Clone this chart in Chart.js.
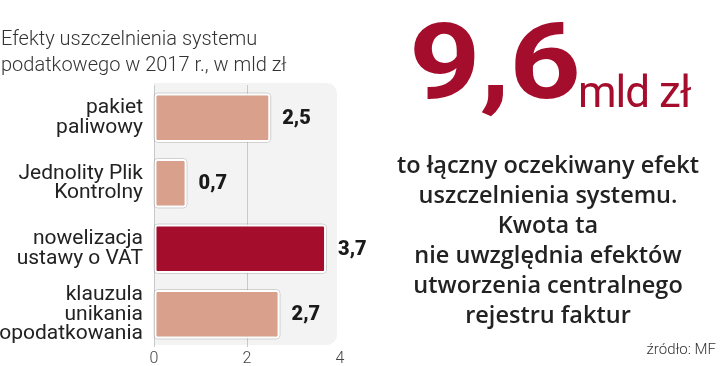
<!DOCTYPE html>
<html>
<head>
<meta charset="utf-8">
<script src="https://cdn.jsdelivr.net/npm/chart.js@4"></script>
<style>
  body { margin: 0; background: #fff; }
  #page { position: relative; width: 720px; height: 366px; overflow: hidden; font-family: Roboto, sans-serif; }
  #chart { position: absolute; left: 0; top: 0; }
  .title { position: absolute; left: 1px; top: 25px; font-size: 20px; line-height: 26px; font-weight: 300; color: #333; white-space: nowrap; }
  .num { position: absolute; left: 409px; top: 9px; color: #a50d2d; font-size: 106px; line-height: 106px; font-weight: 700; letter-spacing: -1px; transform: scaleX(1.18); transform-origin: 0 0; white-space: nowrap; }
  .unit { position: absolute; left: 578px; top: 70px; color: #a50d2d; font-size: 44px; line-height: 44px; font-weight: 400; letter-spacing: -1px; white-space: nowrap; }
  .desc { position: absolute; left: 368px; width: 360px; top: 149px; text-align: center; font-family: "Open Sans", sans-serif; font-size: 23.5px; line-height: 30px; font-weight: 600; color: #222; white-space: nowrap; }
  .source { position: absolute; right: 4px; top: 340px; font-size: 15px; font-weight: 300; color: #333; }
</style>
</head>
<body>
<div id="page">
  <canvas id="chart" width="720" height="366"></canvas>
  <div class="title">Efekty uszczelnienia systemu<br>podatkowego w 2017 r., w mld zł</div>
  <div class="num">9,6</div>
  <div class="unit">mld zł</div>
  <div class="desc">to łączny oczekiwany efekt<br>uszczelnienia systemu.<br>Kwota ta<br>nie uwzględnia efektów<br>utworzenia centralnego<br>rejestru faktur</div>
  <div class="source">źródło: MF</div>
</div>
<script>
// Dane wykresu
const categories = [
    ['pakiet', 'paliwowy'],
    ['Jednolity Plik', 'Kontrolny'],
    ['nowelizacja', 'ustawy o VAT'],
    ['klauzula', 'unikania', 'opodatkowania']
];
const values = [2.5, 0.7, 3.7, 2.7];
const valueLabels = ['2,5', '0,7', '3,7', '2,7'];
const barColors = ['#d9a08b', '#d9a08b', '#a50d2d', '#d9a08b'];
const xTicks = [0, 2, 4];

// Szare tło obszaru wykresu
const plotBackground = {
    id: 'plotBackground',
    beforeDraw(chart) {
        const { ctx, chartArea: a } = chart;
        ctx.save();
        ctx.fillStyle = '#f3f3f3';
        ctx.beginPath();
        ctx.roundRect(a.left, a.top - 2, a.right - a.left - 3, a.bottom - a.top, [0, 10, 10, 0]);
        ctx.fill();
        ctx.restore();
    }
};

// Delikatny obrys słupków
const barOutline = {
    id: 'barOutline',
    beforeDatasetsDraw(chart) {
        const ctx = chart.ctx;
        ctx.save();
        ctx.strokeStyle = 'rgba(0,0,0,0.14)';
        ctx.lineWidth = 1;
        chart.getDatasetMeta(0).data.forEach(el => {
            const h = el.height;
            ctx.beginPath();
            ctx.roundRect(el.base - 0.5, el.y - h / 2 - 0.5, el.x - el.base + 1, h + 1, 4);
            ctx.stroke();
        });
        ctx.restore();
    }
};

// Etykiety wartości
const valueText = {
    id: 'valueText',
    afterDatasetsDraw(chart) {
        const ctx = chart.ctx;
        ctx.save();
        ctx.font = '900 20px Roboto';
        ctx.fillStyle = '#1a1a1a';
        ctx.textBaseline = 'middle';
        chart.getDatasetMeta(0).data.forEach((el, i) => {
            ctx.fillText(valueLabels[i], el.x + 12, el.y + 1);
        });
        ctx.restore();
    }
};

new Chart(document.getElementById('chart'), {
    type: 'bar',
    data: {
        labels: categories,
        datasets: [{
            data: values,
            backgroundColor: barColors,
            borderColor: '#ffffff',
            borderWidth: 2,
            borderRadius: 3,
            borderSkipped: false,
            barPercentage: 0.74,
            categoryPercentage: 1
        }]
    },
    options: {
        indexAxis: 'y',
        responsive: false,
        animation: false,
        devicePixelRatio: 1,
        layout: { padding: { top: 85, right: 380, left: 0, bottom: 0 } },
        plugins: { legend: { display: false }, tooltip: { enabled: false } },
        scales: {
            x: {
                min: 0,
                max: 4,
                afterBuildTicks(scale) {
                    scale.ticks = xTicks.map(v => ({ value: v }));
                },
                ticks: {
                    font: { family: 'Roboto', size: 16, weight: 300 },
                    color: '#444',
                    padding: 2
                },
                grid: {
                    color: c => (c.tick && c.tick.value === 4 ? 'rgba(0,0,0,0)' : '#c9c9c9'),
                    lineWidth: 1,
                    drawTicks: false
                },
                border: { display: false },
                afterFit(scale) {
                    scale.height = 19;
                    scale.paddingLeft = 0;
                    scale.paddingRight = 0;
                }
            },
            y: {
                ticks: {
                    autoSkip: false,
                    font: { family: 'Roboto', size: 21, lineHeight: 0.95 },
                    color: '#222',
                    padding: 3
                },
                grid: { display: false },
                border: { display: false },
                afterFit(scale) {
                    scale.width = 154;
                    scale.paddingTop = 0;
                    scale.paddingBottom = 0;
                }
            }
        }
    },
    plugins: [plotBackground, barOutline, valueText]
});
</script>
</body>
</html>
